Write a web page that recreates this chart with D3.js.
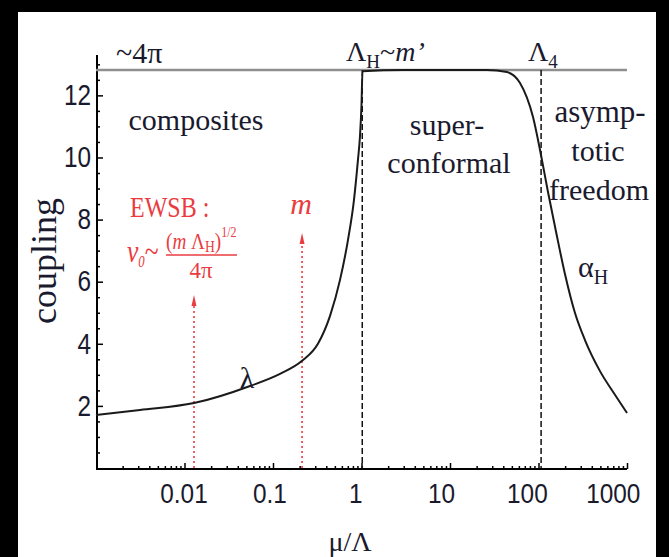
<!DOCTYPE html>
<html>
<head>
<meta charset="utf-8">
<script src="https://cdn.jsdelivr.net/npm/d3@7"></script>
<style>
  body { margin: 0; background: #000; }
  svg { display: block; }
</style>
</head>
<body>
<svg id="chart" width="669" height="557"></svg>
<script>
// Running coupling vs. scale mu/Lambda (log axis)
const muValues = [0.001, 0.00314, 0.0128, 0.055, 0.12, 0.213, 0.322, 0.441, 0.571, 0.703, 0.822, 0.912, 0.962, 1.0, 1.026,
                  3, 10, 26.2, 44, 61.8, 86.7, 106.7, 128, 158, 199, 258, 335, 495, 731, 1000];
const couplingValues = [1.71, 1.87, 2.09, 2.64, 3.03, 3.45, 4.0, 4.9, 6.05, 7.34, 8.63, 9.92, 10.7, 11.7, 12.78,
                        12.82, 12.82, 12.82, 12.75, 12.4, 11.3, 10.08, 8.89, 7.60, 6.25, 5.0, 4.12, 3.12, 2.36, 1.77];

// Strong-coupling ceiling (~4pi) and the two thresholds
const ceilingValue = 12.82;
const thresholdMu = [1.02, 107];            // Lambda_H ~ m', Lambda_4

// Red markers: EWSB scale and m
const markerMu = [0.0128, 0.213];
const markerTop = [5.57, 7.57];

// Axis ticks
const xMajorTicks = [0.01, 0.1, 1, 10, 100, 1000];
const xTickLabels = ["0.01", "0.1", "1", "10", "100", "1000"];
const yMajorTicks = [2, 4, 6, 8, 10, 12];
const yTickLabels = ["2", "4", "6", "8", "10", "12"];

const svg = d3.select("#chart");
const W = 669, H = 557;

// frame: black surround with white page
svg.append("rect").attr("width", W).attr("height", H).attr("fill", "#000");
svg.append("rect").attr("x", 18).attr("y", 12).attr("width", 638).attr("height", H - 12).attr("fill", "#fff");

const x = d3.scaleLog().domain([0.001, 1000]).range([96, 627]);
const y = d3.scaleLinear().domain([0, 13.3]).range([468, 55]);

const RED = "#ea3b40";
const INK = "#1a1a2e";
const SERIF = "'Liberation Serif', 'Times New Roman', serif";
const SANS = "'Liberation Sans', Arial, sans-serif";

// minor ticks
const xMinor = [];
for (let e = -3; e < 3; e++) for (let k = 2; k <= 9; k++) xMinor.push(k * Math.pow(10, e));
const yMinor = d3.range(0.5, 13.01, 0.5).filter(v => !yMajorTicks.includes(v));

const gx = svg.append("g").attr("transform", `translate(0,${y(0) + 1})`);
gx.call(d3.axisBottom(x).tickValues(xMinor).tickSize(-3).tickFormat(""))
  .call(g => g.select(".domain").remove());
gx.append("g").call(d3.axisBottom(x).tickValues(xMajorTicks).tickSize(-6).tickPadding(14)
    .tickFormat((d, i) => xTickLabels[i]))
  .call(g => g.select(".domain").remove())
  .call(g => g.selectAll("text").attr("font-family", SANS).attr("font-size", 28)
      .attr("fill", INK)
      // labels sit slightly left of their ticks, drifting further toward the right end
      .attr("transform", d => `translate(${-1 - 0.03 * (x(d) - x(0.01))},0) scale(0.87,1)`));
gx.append("line").attr("x1", x.range()[0]).attr("x2", x.range()[1]).attr("stroke", "#000").attr("stroke-width", 2);
gx.selectAll(".tick line").attr("stroke", "#000").attr("stroke-width", 1.5);

const gy = svg.append("g").attr("transform", `translate(${x.range()[0] + 1},0)`);
gy.call(d3.axisLeft(y).tickValues(yMinor).tickSize(-3).tickFormat(""))
  .call(g => g.select(".domain").remove());
gy.append("g").call(d3.axisLeft(y).tickValues(yMajorTicks).tickSize(-6).tickPadding(7)
    .tickFormat((d, i) => yTickLabels[i]))
  .call(g => g.select(".domain").remove())
  .call(g => g.selectAll("text").attr("font-family", SANS).attr("font-size", 29)
      .attr("fill", INK).attr("transform", "scale(0.84,1)"));
gy.append("line").attr("y1", y.range()[0] + 2).attr("y2", y.range()[1]).attr("stroke", "#000").attr("stroke-width", 2);
gy.selectAll(".tick line").attr("stroke", "#000").attr("stroke-width", 1.5);

// ceiling line
svg.append("line").attr("x1", x(0.001)).attr("x2", x(1000))
  .attr("y1", y(ceilingValue)).attr("y2", y(ceilingValue))
  .attr("stroke", "#8f8f8f").attr("stroke-width", 2.5);

// threshold dashed lines
svg.selectAll(".thr").data(thresholdMu).join("line")
  .attr("x1", d => x(d)).attr("x2", d => x(d))
  .attr("y1", y(ceilingValue)).attr("y2", y(0))
  .attr("stroke", "#111").attr("stroke-width", 1.5).attr("stroke-dasharray", "6,3");

// red dotted arrows
svg.selectAll(".mk").data(markerMu).join("line")
  .attr("x1", d => x(d)).attr("x2", d => x(d))
  .attr("y1", y(0)).attr("y2", (d, i) => y(markerTop[i]) + 6)
  .attr("stroke", RED).attr("stroke-width", 1.6).attr("stroke-dasharray", "2,3");
svg.selectAll(".mkh").data(markerMu).join("path")
  .attr("d", (d, i) => `M${x(d) - 2.5},${y(markerTop[i]) + 11} L${x(d)},${y(markerTop[i])} L${x(d) + 2.5},${y(markerTop[i]) + 11} Z`)
  .attr("fill", RED);

// coupling curve
const pts = muValues.map((m, i) => [m, couplingValues[i]]);
svg.append("path").datum(pts)
  .attr("d", d3.line().x(d => x(d[0])).y(d => y(d[1])).curve(d3.curveMonotoneX))
  .attr("fill", "none").attr("stroke", "#1a1a1a").attr("stroke-width", 2);

// text helper
function label(parts, px, py, opts = {}) {
  const t = svg.append("text")
    .attr("font-family", opts.family || SERIF)
    .attr("font-size", opts.size || 30)
    .attr("fill", opts.color || INK)
    .attr("text-anchor", opts.anchor || "start")
    .attr("transform", `translate(${px},${py}) scale(${opts.sx || 1},1)` + (opts.rotate ? ` rotate(${opts.rotate})` : ""));
  parts.forEach(p => {
    const s = t.append("tspan").text(p.t);
    if (p.dy) s.attr("dy", p.dy);
    if (p.size) s.attr("font-size", p.size);
    if (p.italic) s.attr("font-style", "italic");
    if (p.dx) s.attr("dx", p.dx);
  });
  return t;
}

// region labels
label([{t: "composites"}], 196, 130, {anchor: "middle"});
label([{t: "super-"}], 447, 135, {anchor: "middle"});
label([{t: "conformal"}], 449, 173, {anchor: "middle"});
label([{t: "asymp-"}], 600, 122, {anchor: "middle", size: 31});
label([{t: "totic"}], 598, 161, {anchor: "middle"});
label([{t: "freedom"}], 599, 200, {anchor: "middle"});

// curve labels
label([{t: "λ"}], 247, 388, {anchor: "middle", size: 30});
label([{t: "α"}, {t: "H", size: 20, dy: 7}], 578, 277, {size: 30});

// top labels
label([{t: "~4π"}], 116, 63, {size: 30});
label([{t: "Λ"}, {t: "H", size: 19, dy: 7}, {t: "~", dy: -7}, {t: "m", italic: true}, {t: "’", italic: true}], 346, 61, {size: 28});
label([{t: "Λ"}, {t: "4", size: 19, dy: 7}], 528, 61, {size: 28});

// red annotations
label([{t: "EWSB :"}], 130, 217, {size: 30, color: RED, sx: 0.8});
label([{t: "v", italic: true}, {t: "0", size: 16, dy: 5, italic: true}, {t: "~", dy: -5}], 127, 262, {size: 32, color: RED, sx: 0.8});
label([{t: "("}, {t: "m", italic: true}, {t: " Λ"}, {t: "H", size: 17, dy: 3}, {t: ")", dy: -3}, {t: "1/2", size: 15, dy: -12}], 166, 249, {size: 24, color: RED, sx: 0.8});
svg.append("line").attr("x1", 166).attr("x2", 237).attr("y1", 255).attr("y2", 255).attr("stroke", RED).attr("stroke-width", 1.5);
label([{t: "4π"}], 201, 278, {size: 24, color: RED, anchor: "middle", sx: 0.95});
label([{t: "m", italic: true}], 301, 214, {size: 30, color: RED, anchor: "middle"});

// axis titles
label([{t: "coupling"}], 56, 261, {size: 36, anchor: "middle", rotate: -90});
label([{t: "μ/Λ"}], 350, 551, {size: 28, anchor: "middle"});
</script>
</body>
</html>
